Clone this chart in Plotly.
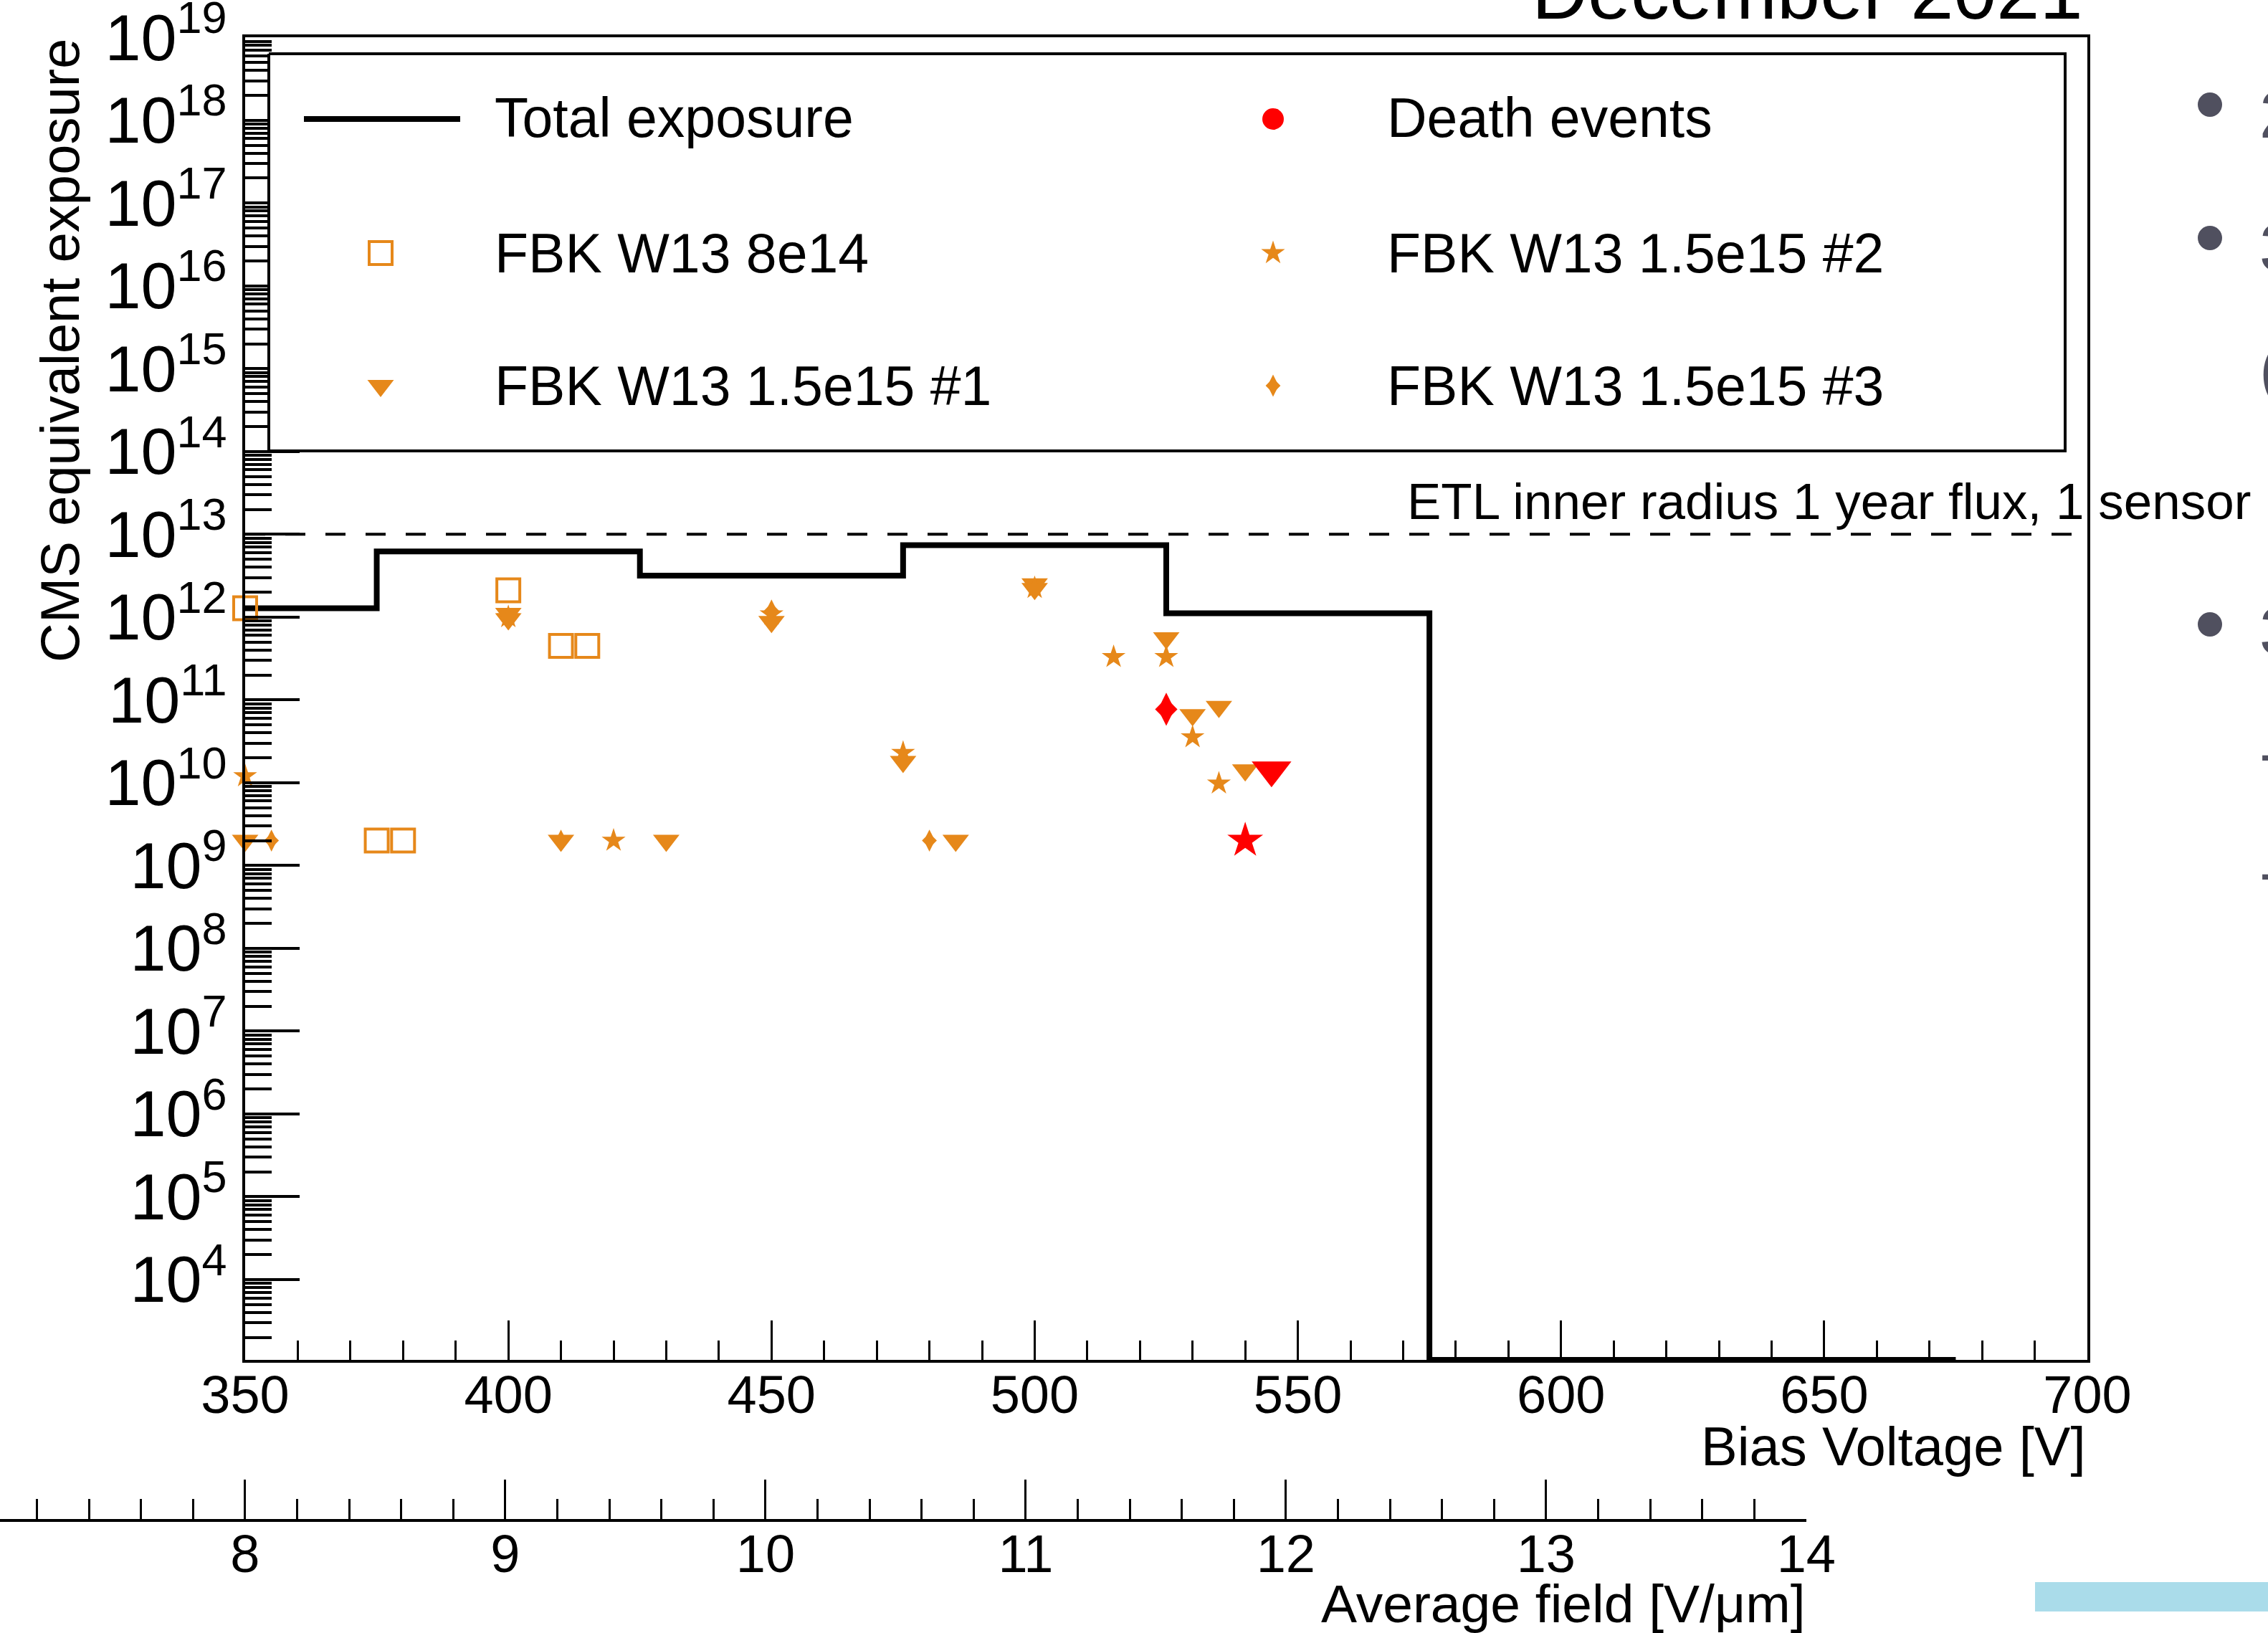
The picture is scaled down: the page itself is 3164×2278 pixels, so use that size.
import plotly.graph_objects as go

W, H = 3164, 2278

# ---------------- data ----------------
# Total CMS-equivalent exposure accumulated at each bias step (bin edges in V)
bias_edges = [350, 375, 425, 475, 525, 575, 675]
total_exposure = [1.28e12, 6.2e12, 3.16e12, 7.4e12, 1.11e12, 0.0]

# ETL inner radius, 1 year flux on one sensor
etl_flux = 1.0e13
etl_span = [350, 700]

v_8e14 = [350, 375, 380, 400, 410, 415]
exp_8e14 = [1.28e12, 2.0e9, 2.0e9, 2.1e12, 4.5e11, 4.5e11]

v_15e15_1 = [350, 400, 400, 410, 430, 450, 475, 485, 500, 500, 525, 530, 535, 540]
exp_15e15_1 = [2.0e9, 1.1e12, 9.5e11, 2.0e9, 2.0e9, 8.8e11, 1.8e10, 2.0e9,
               2.5e12, 2.2e12, 5.6e11, 6.6e10, 8.3e10, 1.42e10]

v_15e15_2 = [350, 400, 420, 450, 475, 500, 515, 525, 530, 535]
exp_15e15_2 = [1.2e10, 1.0e12, 2.0e9, 1.08e12, 2.3e10, 2.25e12, 3.3e11, 3.3e11, 3.55e10, 9.8e9]

v_15e15_3 = [355, 410, 450, 480]
exp_15e15_3 = [2.0e9, 2.0e9, 1.2e12, 2.0e9]

# sensors that broke down (bias, exposure at death, sensor)
death_v = [525, 540, 545]
death_exp = [7.7e10, 2.0e9, 1.42e10]
death_sensor = ["FBK W13 1.5e15 #3", "FBK W13 1.5e15 #2", "FBK W13 1.5e15 #1"]

bias_range = [350, 700]
field_range = [7.058, 14.0005]
exposure_log_range = [3.03, 19.002]

# ---------------- style ----------------
ORANGE = "#E6881A"
RED = "#FF0000"
INK = "#000000"
SLIDE_GREY = "#50505F"
FONT = "Liberation Sans, Arial, Helvetica, sans-serif"

# main pad frame, page pixels
FL, FR, FT, FB = 342, 2912, 52, 1897


def px(x):
    return x / W


def py(y):
    return 1 - y / H


MARKERS = {
    "FBK W13 8e14": [("square-open", 32)],
    "FBK W13 1.5e15 #1": [("triangle-down", 32)],
    "FBK W13 1.5e15 #2": [("star", 25)],
    "FBK W13 1.5e15 #3": [("diamond-tall", 22), ("diamond", 16)],
}
DEATH_SCALE = 1.5


def marker(symbol, size, color):
    if symbol.endswith("-open"):
        return dict(symbol=symbol, size=size, color=color, line=dict(color=color, width=4))
    return dict(symbol=symbol, size=size, color=color, line=dict(width=0))


fig = go.Figure()

# total exposure step curve; empty bins sit on the lower edge of the log axis
floor = 10 ** exposure_log_range[0]
step_y = [max(v, floor) for v in total_exposure + total_exposure[-1:]]
fig.add_trace(go.Scatter(x=bias_edges, y=step_y, mode="lines",
                         line=dict(color=INK, width=8, shape="hv"), hoverinfo="skip"))

# one-year ETL flux reference
fig.add_trace(go.Scatter(x=etl_span, y=[etl_flux, etl_flux], mode="lines",
                         line=dict(color=INK, width=4, dash="28px,28px"), hoverinfo="skip"))

series = [
    ("FBK W13 8e14", v_8e14, exp_8e14),
    ("FBK W13 1.5e15 #1", v_15e15_1, exp_15e15_1),
    ("FBK W13 1.5e15 #2", v_15e15_2, exp_15e15_2),
    ("FBK W13 1.5e15 #3", v_15e15_3, exp_15e15_3),
]
for name, xs, ys in series:
    for sym, size in MARKERS[name]:
        fig.add_trace(go.Scatter(x=xs, y=ys, mode="markers", marker=marker(sym, size, ORANGE),
                                 cliponaxis=False, hoverinfo="skip"))

for x, y, name in zip(death_v, death_exp, death_sensor):
    for sym, size in MARKERS[name]:
        fig.add_trace(go.Scatter(x=[x], y=[y], mode="markers",
                                 marker=marker(sym, size * DEATH_SCALE, RED),
                                 cliponaxis=False, hoverinfo="skip"))

# carrier for the secondary (average field) axis
fig.add_trace(go.Scatter(x=[10], y=[1e10], xaxis="x2", yaxis="y", mode="markers",
                         marker=dict(opacity=0), hoverinfo="skip"))

# ---------------- legend (page-pixel overlay) ----------------
LEG_L, LEG_R, LEG_T, LEG_B = 375, 2881, 75, 629
fig.add_trace(go.Scatter(x=[LEG_L, LEG_R, LEG_R, LEG_L, LEG_L],
                         y=[LEG_T, LEG_T, LEG_B, LEG_B, LEG_T],
                         xaxis="x3", yaxis="y3", mode="lines", fill="toself",
                         fillcolor="white", line=dict(color=INK, width=4), hoverinfo="skip"))

COL1_KEY, COL1_TXT, COL2_KEY, COL2_TXT = 531, 688, 1776, 1933
ROWS = [166, 353, 538]

fig.add_trace(go.Scatter(x=[424, 642], y=[ROWS[0], ROWS[0]], xaxis="x3", yaxis="y3",
                         mode="lines", line=dict(color=INK, width=8), hoverinfo="skip"))
legend_keys = [
    (COL2_KEY, ROWS[0], [("circle", 30)], RED),
    (COL1_KEY, ROWS[1], MARKERS["FBK W13 8e14"], ORANGE),
    (COL2_KEY, ROWS[1], MARKERS["FBK W13 1.5e15 #2"], ORANGE),
    (COL1_KEY, ROWS[2], MARKERS["FBK W13 1.5e15 #1"], ORANGE),
    (COL2_KEY, ROWS[2], MARKERS["FBK W13 1.5e15 #3"], ORANGE),
]
for kx, ky, syms, col in legend_keys:
    for sym, size in syms:
        fig.add_trace(go.Scatter(x=[kx], y=[ky], xaxis="x3", yaxis="y3", mode="markers",
                                 marker=marker(sym, size, col), cliponaxis=False, hoverinfo="skip"))

# slide bullets next to the figure
fig.add_trace(go.Scatter(x=[3083, 3083, 3083], y=[146, 332, 871], xaxis="x3", yaxis="y3",
                         mode="markers", marker=dict(symbol="circle", size=34, color=SLIDE_GREY),
                         cliponaxis=False, hoverinfo="skip"))


def text(x, y, s, size, xanchor="left", color=INK, angle=0):
    fig.add_annotation(x=px(x), y=py(y), xref="paper", yref="paper", text=s, showarrow=False,
                       xanchor=xanchor, yanchor="middle", textangle=angle,
                       font=dict(family=FONT, size=size, color=color))


text(COL1_TXT, ROWS[0] - 2, "Total exposure", 77)
text(COL2_TXT, ROWS[0] - 2, "Death events", 77)
text(COL1_TXT, ROWS[1], "FBK W13 8e14", 77)
text(COL2_TXT, ROWS[1], "FBK W13 1.5e15 #2", 77)
text(COL1_TXT, ROWS[2], "FBK W13 1.5e15 #1", 77)
text(COL2_TXT, ROWS[2], "FBK W13 1.5e15 #3", 77)

text(1961, 699, "ETL inner radius 1 year flux, 1 sensor", 71)
text(FR, 2018, "Bias Voltage [V]", 76, xanchor="right")
text(2520, 2237, "Average field [V/μm]", 75, xanchor="right")
text(84, 489, "CMS equivalent exposure", 76, xanchor="center", angle=-90)
text(2907, -11, "December 2021", 108, xanchor="right")

# slide text running off the right edge
for gy, glyph in [(160, "2"), (345, "3"), (515, "("), (880, "3"), (1050, "-"), (1216, "-")]:
    text(3150, gy, glyph, 92, color=SLIDE_GREY)

fig.add_shape(type="rect", xref="x3", yref="y3", x0=2839, x1=3170, y0=2207, y1=2248,
              fillcolor="#AADCEA", line=dict(width=0), layer="below")

# ---------------- axes ----------------
axis_common = dict(showgrid=False, zeroline=False, showline=True, linecolor=INK, linewidth=4,
                   ticks="inside", tickcolor=INK, automargin=False)

fig.update_layout(
    template="none",
    width=W, height=H, autosize=False,
    margin=dict(l=0, r=0, t=0, b=0, pad=0),
    paper_bgcolor="white", plot_bgcolor="rgba(0,0,0,0)",
    showlegend=False,
    xaxis=dict(**axis_common, domain=[px(FL), px(FR)], range=bias_range, anchor="y", mirror=True,
               tickmode="linear", tick0=350, dtick=50, ticklen=55, tickwidth=3,
               tickfont=dict(family=FONT, size=74, color=INK), ticklabelstandoff=-19,
               minor=dict(ticks="inside", dtick=10, ticklen=27, tickwidth=3, tickcolor=INK,
                          showgrid=False)),
    yaxis=dict(**axis_common, type="log", domain=[py(FB), py(FT)], range=exposure_log_range,
               anchor="x", mirror=True, tickmode="linear", tick0=0, dtick=1,
               exponentformat="power", ticklen=76, tickwidth=3.5,
               tickfont=dict(family=FONT, size=72, color=INK), ticklabelstandoff=7,
               ticklabeloverflow="allow",
               minor=dict(ticks="inside", dtick="D1", ticklen=37, tickwidth=3.5, tickcolor=INK,
                          showgrid=False)),
    xaxis2=dict(**axis_common, domain=[0, px(2520)], range=field_range, anchor="free",
                position=py(2121), tickmode="linear", tick0=8, dtick=1, ticklen=55, tickwidth=3,
                tickfont=dict(family=FONT, size=74, color=INK), ticklabelstandoff=-19,
                minor=dict(ticks="inside", dtick=0.2, ticklen=28, tickwidth=3, tickcolor=INK,
                           showgrid=False)),
    xaxis3=dict(domain=[0, 1], range=[0, W], visible=False, anchor="y3", fixedrange=True),
    yaxis3=dict(domain=[0, 1], range=[H, 0], visible=False, anchor="x3", fixedrange=True),
)

fig.write_html("out.html")
